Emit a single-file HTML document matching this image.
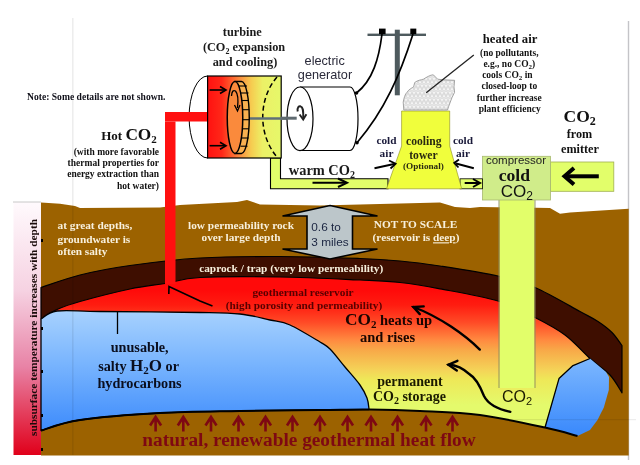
<!DOCTYPE html>
<html><head><meta charset="utf-8">
<style>
html,body{margin:0;padding:0;background:#fff;width:640px;height:465px;overflow:hidden}
svg{display:block;filter:blur(0.5px)}
text{font-family:"Liberation Serif",serif;font-weight:bold}
.sans{font-family:"Liberation Sans",sans-serif;font-weight:normal}
</style></head><body>
<svg width="640" height="465" viewBox="0 0 640 465">
<defs>
<linearGradient id="gBar" x1="0" y1="202" x2="0" y2="455" gradientUnits="userSpaceOnUse">
<stop offset="0" stop-color="#fffafd"/><stop offset="0.35" stop-color="#f6d2e2"/><stop offset="0.65" stop-color="#e883a6"/><stop offset="1" stop-color="#e0001a"/>
</linearGradient>
<linearGradient id="gRes" x1="0" y1="290" x2="0" y2="405" gradientUnits="userSpaceOnUse">
<stop offset="0" stop-color="#ff0a0a"/><stop offset="0.13" stop-color="#ff1c10"/><stop offset="0.28" stop-color="#ff4a26"/><stop offset="0.435" stop-color="#ff8a40"/><stop offset="0.52" stop-color="#f8a848"/><stop offset="0.7" stop-color="#f4d458"/><stop offset="0.78" stop-color="#eee858"/><stop offset="1" stop-color="#e4fa6c"/>
</linearGradient>
<linearGradient id="gBlue" x1="0" y1="310" x2="0" y2="430" gradientUnits="userSpaceOnUse">
<stop offset="0" stop-color="#a8d2fe"/><stop offset="0.45" stop-color="#78b4fe"/><stop offset="1" stop-color="#3e8cfc"/>
</linearGradient>
<linearGradient id="gTurb" x1="207" y1="0" x2="281" y2="0" gradientUnits="userSpaceOnUse">
<stop offset="0" stop-color="#ff1010"/><stop offset="0.2" stop-color="#ff2818"/><stop offset="0.45" stop-color="#fa9040"/><stop offset="0.6" stop-color="#f6cc50"/><stop offset="0.75" stop-color="#ecf066"/><stop offset="1" stop-color="#e6f86a"/>
</linearGradient>
<pattern id="dots" x="0" y="0" width="4" height="7" patternUnits="userSpaceOnUse"><rect width="4" height="7" fill="#f4f4f4"/><g fill="none" stroke="#bcbcbc" stroke-width="0.45"><circle cx="2" cy="1.75" r="1.7"/><circle cx="0" cy="5.25" r="1.7"/><circle cx="4" cy="5.25" r="1.7"/></g></pattern>
</defs>

<!-- faint guide lines -->

<line x1="628.5" y1="21" x2="628.5" y2="460" stroke="#c4c4c8" stroke-width="1.4"/>

<!-- left temperature bar -->
<rect x="13.5" y="202" width="27.5" height="253" fill="url(#gBar)"/>
<line x1="13" y1="202" x2="41" y2="202" stroke="#c8c8c8" stroke-width="1"/>

<!-- brown ground -->
<path d="M41,202.5 L60,203.8 L75,206 L80,208 L160,207.5 L180,205 L237,202 L247,200 L260,204.5 L320,205.5 L360,204.5 L440,202.5 L455,207 L470,208 L480,207 L550,208 L560,213.8 L570,212.5 L628.7,208.8 L628.7,455.5 L41,455.5 Z" fill="#9c6200"/>

<!-- reservoir gradient -->
<path d="M41.0,319.0 C43.7,317.4 50.5,312.4 57.0,309.5 C63.5,306.6 67.8,304.9 80.0,301.5 C92.2,298.1 115.8,292.0 130.0,289.0 C144.2,286.0 153.3,285.4 165.0,283.5 C176.7,281.6 180.8,278.6 200.0,277.5 C219.2,276.4 253.3,276.6 280.0,277.0 C306.7,277.4 340.0,279.1 360.0,280.0 C380.0,280.9 386.7,281.0 400.0,282.5 C413.3,284.0 423.7,285.7 440.0,288.8 C456.3,291.9 482.2,296.2 498.0,301.0 C513.8,305.8 523.8,311.8 535.0,317.5 C546.2,323.2 555.8,328.2 565.0,335.0 C574.2,341.8 585.8,354.6 590.0,358.5 L573,365.6 L559,378.6 L545,427.5 L545.0,427.5 C534.2,425.4 500.8,417.8 480.0,415.0 C459.2,412.2 438.5,411.9 420.0,411.0 C401.5,410.1 385.7,409.7 369.0,409.5 C352.3,409.3 341.5,409.8 320.0,410.0 C298.5,410.2 266.7,410.5 240.0,411.0 C213.3,411.5 186.7,411.5 160.0,413.0 C133.3,414.5 99.8,417.1 80.0,420.0 C60.2,422.9 47.5,428.8 41.0,430.5 Z" fill="url(#gRes)"/>

<!-- caprock -->
<path d="M41.0,287.5 C47.5,285.4 65.2,278.7 80.0,275.0 C94.8,271.3 110.0,268.3 130.0,265.5 C150.0,262.7 175.0,259.5 200.0,258.0 C225.0,256.5 253.3,256.4 280.0,256.5 C306.7,256.6 340.0,257.8 360.0,258.5 C380.0,259.2 386.7,259.8 400.0,261.0 C413.3,262.2 423.7,263.5 440.0,266.0 C456.3,268.5 482.2,272.4 498.0,276.0 C513.8,279.6 521.3,281.6 535.0,287.5 C548.7,293.4 569.5,305.8 580.0,311.5 C590.5,317.2 592.7,318.0 598.0,321.5 C603.3,325.0 608.0,328.5 612.0,332.5 C616.0,336.5 620.3,343.3 622.0,345.5 L622,392.8 L622.0,392.8 C620.0,389.8 615.3,380.7 610.0,375.0 C604.7,369.3 597.5,365.2 590.0,358.5 C582.5,351.8 574.2,341.8 565.0,335.0 C555.8,328.2 546.2,323.2 535.0,317.5 C523.8,311.8 513.8,305.8 498.0,301.0 C482.2,296.2 456.3,291.9 440.0,288.8 C423.7,285.7 413.3,284.0 400.0,282.5 C386.7,281.0 380.0,280.9 360.0,280.0 C340.0,279.1 306.7,277.4 280.0,277.0 C253.3,276.6 219.2,276.4 200.0,277.5 C180.8,278.6 176.7,281.6 165.0,283.5 C153.3,285.4 144.2,286.0 130.0,289.0 C115.8,292.0 92.2,298.1 80.0,301.5 C67.8,304.9 63.5,306.6 57.0,309.5 C50.5,312.4 43.7,317.4 41.0,319.0 Z" fill="#3e0e00" stroke="#000" stroke-width="1.2" stroke-linejoin="round"/>

<!-- blue left -->
<path d="M41.0,319.0 C43.7,317.7 47.2,312.2 57.0,311.0 C66.8,309.8 76.2,311.2 100.0,311.5 C123.8,311.8 176.7,312.1 200.0,312.5 C223.3,312.9 228.3,312.8 240.0,314.0 C251.7,315.2 261.7,318.2 270.0,320.0 C278.3,321.8 281.7,321.3 290.0,325.0 C298.3,328.7 313.3,338.0 320.0,342.0 C326.7,346.0 325.8,344.8 330.0,349.0 C334.2,353.2 340.0,361.0 345.0,367.0 C350.0,373.0 356.3,379.8 360.0,385.0 C363.7,390.2 365.5,394.0 367.0,398.0 C368.5,402.0 368.7,407.2 369.0,409.0 L369.0,409.5 C360.8,409.6 341.5,409.8 320.0,410.0 C298.5,410.2 266.7,410.5 240.0,411.0 C213.3,411.5 186.7,411.5 160.0,413.0 C133.3,414.5 99.8,417.1 80.0,420.0 C60.2,422.9 47.5,428.8 41.0,430.5 Z" fill="url(#gBlue)" stroke="#000" stroke-width="1.3" stroke-linejoin="round"/>
<!-- blue right pocket -->
<path d="M590,358.5 L573,365.6 L559,378.6 L545,427.5 L577.5,436 L590,430 L597.5,420 L603.8,407.5 L608.8,390 L609,377 L606,372 Z" fill="url(#gBlue)"/>
<path d="M590,358.5 L573,365.6 L559,378.6 L545,427.5" fill="none" stroke="#000" stroke-width="1.3" stroke-linejoin="round"/>

<!-- bottom black line -->
<path d="M41.0,430.5 C47.5,428.8 60.2,422.9 80.0,420.0 C99.8,417.1 133.3,414.5 160.0,413.0 C186.7,411.5 213.3,411.5 240.0,411.0 C266.7,410.5 298.5,410.2 320.0,410.0 C341.5,409.8 352.3,409.3 369.0,409.5 C385.7,409.7 401.5,410.1 420.0,411.0 C438.5,411.9 459.2,412.2 480.0,415.0 C500.8,417.8 528.8,424.0 545.0,427.5 C561.2,431.0 572.1,434.6 577.5,436.0" fill="none" stroke="#000" stroke-width="2"/>

<!-- tick marks -->
<g fill="#000"><rect x="41" y="239" width="2" height="3"/><rect x="41" y="327" width="2" height="3"/><rect x="41" y="370" width="2" height="3"/><rect x="41" y="414" width="2" height="3"/><rect x="41" y="448" width="2" height="3"/></g>

<line x1="117.5" y1="312" x2="117.5" y2="334" stroke="#000" stroke-width="1.3"/>
<!-- red pipe -->
<path d="M165,121.5 L175.5,121.5 L175.5,284 L165,284 Z" fill="#ff1010"/>
<!-- pointer line -->
<path d="M168.8,294 L169,286.5 L200,301 L212.5,306" fill="none" stroke="#000" stroke-width="1.6"/>

<!-- yellow pipe down + in-ground -->
<rect x="499.5" y="200" width="35" height="188" fill="#e2fe6a"/>
<line x1="499" y1="200" x2="499" y2="388" stroke="#8a8a60" stroke-width="0.9"/>
<line x1="535" y1="200" x2="535" y2="388" stroke="#8a8a60" stroke-width="0.9"/>
<!-- compressor input pipe -->
<rect x="550.5" y="162" width="63.3" height="29.3" fill="#e2fe6a" stroke="#a0b050" stroke-width="0.8"/>
<!-- compressor box -->
<rect x="482.5" y="156.3" width="68" height="43.7" fill="#d0ec8a" stroke="#a8b870" stroke-width="0.8"/>
<!-- warm CO2 pipe -->
<path d="M270.5,158 L270.5,188.8 L388,188.8 L388,178.8 L280.5,178.8 L280.5,158 Z" fill="#e2fe6a" stroke="#000" stroke-width="1.1"/>
<rect x="460" y="178.8" width="22.5" height="10" fill="#e2fe6a" stroke="#000" stroke-width="0.8"/>

<!-- cooling tower -->
<path d="M401.6,111 L449.7,111 L449.7,146 L461.7,188.8 L386.5,188.8 L401.6,146 Z" fill="#f0fe3c" stroke="#8a8a20" stroke-width="0.6"/>

<!-- turbine -->
<path d="M207.6,76 A18.5,41 0 0 0 207.6,158" fill="#fff" stroke="#000" stroke-width="1"/>
<rect x="165" y="112" width="43" height="9.5" fill="#ff1010"/>
<rect x="207.6" y="76" width="73.6" height="82" fill="url(#gTurb)" stroke="#000" stroke-width="1.2"/>
<path d="M277,77 C258,99 258,135 277,157" fill="none" stroke="#000" stroke-width="1.5" stroke-dasharray="5,3"/>
<line x1="249" y1="118.5" x2="297" y2="118.5" stroke="#5f7078" stroke-width="2.5"/>
<!-- wheel rim -->
<path d="M235,81.5 L241.5,81.5 A7.75,36 0 0 1 241.5,153.5 L235,153.5 Z" fill="#f8b050" stroke="#000" stroke-width="1.4"/>
<g stroke="#000" stroke-width="1.1">
<line x1="239" y1="86" x2="247" y2="86"/><line x1="240.5" y1="93" x2="248.5" y2="93"/><line x1="241.5" y1="100.5" x2="249" y2="100.5"/><line x1="242" y1="109.7" x2="249.2" y2="109.7"/><line x1="242" y1="119.7" x2="249.2" y2="119.7"/><line x1="242" y1="128.8" x2="249" y2="128.8"/><line x1="241.5" y1="138" x2="248.5" y2="138"/><line x1="240.5" y1="146.2" x2="247.5" y2="146.2"/>
</g>
<ellipse cx="235" cy="117.5" rx="7.75" ry="36" fill="#fa8a3c" stroke="#000" stroke-width="1.5"/>
<path d="M231.5,96 Q232,89 235.5,91 Q239,95 237.5,108" fill="none" stroke="#000" stroke-width="1.3"/>
<path d="M234.5,105 L237.5,111 L240,105" fill="none" stroke="#000" stroke-width="1.3"/>
<!-- turbine arrows -->
<g stroke="#000" stroke-width="1.6" fill="none"><line x1="209.6" y1="90" x2="225" y2="90"/><path d="M220,86.5 L226,90 L220,93.5"/><line x1="209.6" y1="145.7" x2="225" y2="145.7"/><path d="M220,142.2 L226,145.7 L220,149.2"/></g>

<!-- generator -->
<path d="M300,87 L350,87 A8,31.75 0 0 1 350,150.5 L300,150.5" fill="#fff" stroke="#000" stroke-width="1.2"/>
<ellipse cx="300" cy="118.8" rx="13" ry="31.8" fill="#fff" stroke="#000" stroke-width="1.2"/>
<line x1="281" y1="118.2" x2="296.7" y2="118.2" stroke="#5f6a70" stroke-width="3"/>
<path d="M297.7,111.5 C297,107 299,106 300.5,106.3 C303,107 303.5,110 303.2,118.5" fill="none" stroke="#222" stroke-width="1.9"/>
<path d="M299.6,114.5 L303.2,119.5 L306.4,114.3" fill="none" stroke="#222" stroke-width="1.9"/>
<circle cx="356.5" cy="93" r="1.8" fill="#000"/><circle cx="357" cy="142.8" r="1.8" fill="#000"/>

<!-- pole -->
<rect x="394.8" y="29.7" width="5" height="65.6" fill="#4e5a5e"/>
<rect x="367.5" y="33.6" width="58.5" height="2.4" fill="#4e5a5e"/>
<rect x="379" y="28.6" width="6.6" height="5.6" fill="#000"/><rect x="410.3" y="28.6" width="6" height="5.6" fill="#000"/>
<path d="M382,34 C379,58 373,80 356.5,93" fill="none" stroke="#000" stroke-width="1.7"/>
<path d="M413,34 C400,75 385,110 357,142.8" fill="none" stroke="#000" stroke-width="1.7"/>

<!-- steam cloud -->
<path d="M403.8,110 L403.2,102.2 C404,98 405,94 407,92.3 C409,89 412,88 413.6,86.9 L414.7,82.5 C418,80 421,80 423.4,79.2 C427,77 430,75 433.3,74.8 L437.7,79.2 L443,79.8 L454.6,80.3 L454,86.9 L454.6,92.3 L451.9,97.8 L448.6,106.6 L447.5,110 Z" fill="url(#dots)" stroke="#909090" stroke-width="0.8"/>
<line x1="426.2" y1="92.7" x2="473.8" y2="55" stroke="#222" stroke-width="1.3"/>

<!-- double arrow -->
<path d="M330,205.5 L377.5,216 L352.5,216 L352.5,249 L377.5,249 L330,259 L282.5,249 L307,249 L307,216 L282.5,216 Z" fill="#bcc6ca" stroke="#000" stroke-width="1.6" stroke-linejoin="miter"/>

<!-- arrows in pipes -->
<g stroke="#000" fill="none">
<line x1="312.5" y1="182.8" x2="346" y2="182.8" stroke-width="2"/><path d="M338,178.5 L347,182.8 L338,187" stroke-width="2"/>
<line x1="464.7" y1="183" x2="479" y2="183" stroke-width="2"/><path d="M473,179 L480,183 L473,187" stroke-width="2"/>
<line x1="567" y1="176.3" x2="598.8" y2="176.3" stroke-width="4"/><path d="M574,168 L564.5,176.3 L574,184.6" stroke-width="4"/>
<line x1="374.5" y1="168.3" x2="394" y2="164" stroke-width="2"/><path d="M389,160.5 L395.6,163.8 L390.5,168.5" stroke-width="1.8"/>
<line x1="473.8" y1="168.3" x2="456" y2="163.5" stroke-width="2"/><path d="M459,159.5 L454.2,162.9 L458.5,167.5" stroke-width="1.8"/>
</g>

<!-- reservoir curved arrows -->
<g stroke="#000" fill="none" stroke-width="2.4" stroke-linecap="round">
<path d="M479.8,349.6 C465,335 440,317 413.4,307"/><path d="M423.7,306.4 L413.4,307 L419.8,314.1"/>
<path d="M510.3,411.8 C497,409 488,404 484,396 C480,386 476,378 469.7,374.4 C462,367 455,365 448.4,364.7"/><path d="M457.4,360.8 L448.4,364.7 L456.8,370.5"/>
</g>

<!-- bottom red arrows -->
<g stroke="#7e0812" stroke-width="2.6" fill="none" stroke-linejoin="miter">
<path d="M155.6,431.5 V418 M150.1,425.5 L155.6,417 L161.1,425.5"/>
<path d="M183.3,431.5 V418 M177.8,425.5 L183.3,417 L188.8,425.5"/>
<path d="M211,431.5 V418 M205.5,425.5 L211,417 L216.5,425.5"/>
<path d="M238.5,431.5 V418 M233.0,425.5 L238.5,417 L244.0,425.5"/>
<path d="M265.5,431.5 V418 M260.0,425.5 L265.5,417 L271.0,425.5"/>
<path d="M292.5,431.5 V418 M287.0,425.5 L292.5,417 L298.0,425.5"/>
<path d="M320,431.5 V418 M314.5,425.5 L320,417 L325.5,425.5"/>
<path d="M347.5,431.5 V418 M342.0,425.5 L347.5,417 L353.0,425.5"/>
<path d="M371,431.5 V418 M365.5,425.5 L371,417 L376.5,425.5"/>
<path d="M397.5,431.5 V418 M392.0,425.5 L397.5,417 L403.0,425.5"/>
<path d="M426,431.5 V418 M420.5,425.5 L426,417 L431.5,425.5"/>
<path d="M452.5,431.5 V418 M447.0,425.5 L452.5,417 L458.0,425.5"/>
</g>

<line x1="72.8" y1="18" x2="72.8" y2="455" stroke="#000" stroke-width="1.5" opacity="0.07"/>
<line x1="505" y1="419.6" x2="636" y2="419.6" stroke="#000" stroke-width="1.3" opacity="0.07"/>
<!-- TEXT -->
<text x="27" y="99.5" font-size="9.6" fill="#10101a">Note: Some details are not shown.</text>

<g font-size="12.3" fill="#1a1a1a" text-anchor="middle">
<text x="242.3" y="36.4">turbine</text>
<text x="244" y="51.3">(CO<tspan font-size="8" dy="3">2</tspan><tspan dy="-3"> expansion</tspan></text>
<text x="245" y="66">and cooling)</text>
</g>
<g class="sans" font-size="12.7" fill="#2a2a3a" text-anchor="middle">
<text class="sans" x="324.7" y="65">electric</text>
<text class="sans" x="325" y="79.4">generator</text>
</g>

<text x="101.2" y="140.3" font-size="13" fill="#111">Hot <tspan font-size="17.3">CO</tspan><tspan font-size="11" dy="3">2</tspan></text>
<g font-size="9.5" fill="#111" text-anchor="end">
<text x="159" y="154.7">(with more favorable</text>
<text x="159" y="166" textLength="91.5">thermal properties for</text>
<text x="159" y="177.2">energy extraction than</text>
<text x="159" y="188.5">hot water)</text>
</g>

<g fill="#111" text-anchor="middle">
<text x="510" y="43" font-size="12.7">heated air</text>
<text x="509.3" y="55.6" font-size="9.5">(no pollutants,</text>
<text x="509.3" y="66.8" font-size="9.5">e.g., no CO<tspan font-size="7" dy="2">2</tspan><tspan dy="-2">)</tspan></text>
<text x="507.4" y="77.7" font-size="9.5">cools CO<tspan font-size="7" dy="2">2</tspan><tspan dy="-2"> in</tspan></text>
<text x="509.3" y="89.3" font-size="9.5">closed-loop to</text>
<text x="509.2" y="100.5" font-size="9.5">further increase</text>
<text x="509.7" y="111.7" font-size="9.5">plant efficiency</text>
</g>

<g fill="#111" text-anchor="middle">
<text x="579.7" y="122" font-size="17.5">CO<tspan font-size="12" dy="3">2</tspan></text>
<text x="579.4" y="138.2" font-size="12.2">from</text>
<text x="580" y="153" font-size="12.2">emitter</text>
</g>

<text class="sans" x="516" y="164.3" font-size="11.5" fill="#222" text-anchor="middle">compressor</text>
<text x="514.4" y="180.5" font-size="17.6" fill="#111" text-anchor="middle">cold</text>
<text class="sans" x="516.8" y="196.8" font-size="17" fill="#111" text-anchor="middle">CO<tspan font-size="12" dy="3">2</tspan></text>

<g fill="#1a1a3a" text-anchor="middle" font-size="11.3">
<text x="386.5" y="144.2">cold</text><text x="386.5" y="156.8">air</text>
<text x="463" y="144.2">cold</text><text x="463" y="156.8">air</text>
</g>
<g fill="#2a2a10" text-anchor="middle">
<text x="423.8" y="144.8" font-size="11.6">cooling</text>
<text x="423.4" y="158.6" font-size="11.6">tower</text>
<text x="423.4" y="168.9" font-size="9.2">(Optional)</text>
</g>

<text x="288.8" y="175" font-size="14.4" fill="#1a1a1a">warm CO<tspan font-size="10" dy="3">2</tspan></text>

<g fill="#f8f0dc" font-size="11.3">
<text x="57.5" y="228.8">at great depths,</text>
<text x="57.5" y="242.5">groundwater is</text>
<text x="57.5" y="255">often salty</text>
</g>
<g fill="#f8f0dc" font-size="11.3" text-anchor="middle">
<text x="241" y="228.6">low permeability rock</text>
<text x="241" y="241.4">over large depth</text>
</g>
<text class="sans" x="311.3" y="230.5" font-size="11.8" fill="#1a2440">0.6 to</text>
<text class="sans" x="311.3" y="246.3" font-size="11.8" fill="#1a2440">3 miles</text>
<g fill="#f8f0dc" font-size="11.3" text-anchor="middle">
<text x="415.6" y="228">NOT TO SCALE</text>
<text x="416" y="241.3">(reservoir is <tspan text-decoration="underline">deep</tspan>)</text>
</g>
<text x="291.2" y="271.8" font-size="11.3" fill="#f8f0dc" text-anchor="middle">caprock / trap (very low permeability)</text>

<g fill="#580000" font-size="11.3" text-anchor="middle">
<text x="303" y="295.5">geothermal reservoir</text>
<text x="304" y="308.8">(high porosity and permeability)</text>
</g>

<g fill="#1a0500">
<text x="345" y="324.5" font-size="17.3">CO<tspan font-size="11" dy="3">2</tspan><tspan font-size="14.5" dy="-3"> heats up</tspan></text>
<text x="387.5" y="341.5" font-size="14.5" text-anchor="middle">and rises</text>
</g>
<g fill="#1a1a00" text-anchor="middle" font-size="14">
<text x="410" y="386.3">permanent</text>
<text x="409.4" y="401.3">CO<tspan font-size="10" dy="3">2</tspan><tspan dy="-3"> storage</tspan></text>
</g>
<text class="sans" x="517" y="401.5" font-size="16" fill="#1a1a00" text-anchor="middle">CO<tspan font-size="11" dy="3">2</tspan></text>

<g fill="#0a0e1e" text-anchor="middle" font-size="14.2">
<text x="139.7" y="352.3">unusable,</text>
<text x="138.6" y="371.3">salty <tspan font-size="17">H</tspan><tspan font-size="11" dy="3">2</tspan><tspan font-size="17" dy="-3">O</tspan> or</text>
<text x="139.5" y="388">hydrocarbons</text>
</g>

<text x="309" y="446" font-size="19.3" fill="#7e0812" text-anchor="middle">natural, renewable geothermal heat flow</text>

<text transform="translate(36.5,436) rotate(-90)" font-size="11.35" fill="#1a0a0a">subsurface temperature increases with depth</text>
</svg>
</body></html>
